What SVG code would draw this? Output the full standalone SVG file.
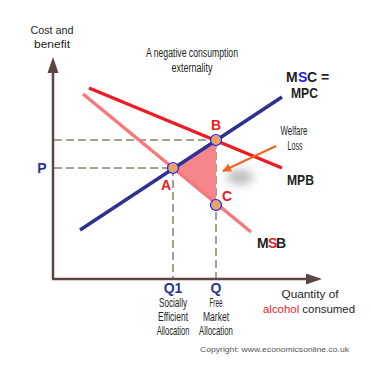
<svg xmlns="http://www.w3.org/2000/svg" width="371" height="368" viewBox="0 0 371 368">
<defs>
<style>
.t{font-family:"Liberation Sans",Arial,sans-serif;fill:#231f20}
.c{font-family:"Liberation Sans",Arial,sans-serif;fill:#231f20;font-size:12px}
.b{font-family:"Liberation Sans",Arial,sans-serif;font-weight:bold;font-size:14px;fill:#231f20}
.blue{fill:#2e3192}
.red{fill:#ed1c24}
.dash{stroke:#5a3e1e;stroke-width:1;stroke-dasharray:8 4;fill:none}
.axis{stroke:#5e4545;stroke-width:2.5;fill:none}
.dot{fill:#e6a467;stroke:#2020ff;stroke-width:1.2}
</style>
<marker id="ah" viewBox="0 0 10 10" refX="9" refY="5" markerWidth="4" markerHeight="4" orient="auto" markerUnits="strokeWidth">
<path d="M0,0 L10,5 L0,10 z" fill="#f26522"/>
</marker>
<filter id="sh" x="-50%" y="-50%" width="200%" height="200%"><feGaussianBlur stdDeviation="5"/></filter>
</defs>
<rect width="371" height="368" fill="#fff"/>

<g id="axes">
<line class="axis" x1="53" y1="279" x2="53" y2="70"/>
<path d="M53,57 L47.5,73 L58.5,73 z" fill="#5e4545"/>
<line class="axis" x1="52" y1="279" x2="308" y2="279"/>
<path d="M322,279 L306,273.5 L306,284.5 z" fill="#5e4545"/>
</g>

<g id="connectors">
<line class="dash" x1="54" y1="140" x2="216" y2="140"/>
<line class="dash" x1="54" y1="168" x2="173" y2="168"/>
<line class="dash" x1="173" y1="168" x2="173" y2="278"/>
<line class="dash" x1="216" y1="140" x2="216" y2="278"/>
</g>

<g id="welfare-area">
<polygon points="173,168 216,140 216,204" fill="#f4868a"/>
</g>

<g id="msb-curve">
<line x1="83" y1="94" x2="251" y2="232" stroke="#f5787d" stroke-width="3.5"/>
</g>
<g id="mpb-curve">
<line x1="89" y1="88" x2="282" y2="168" stroke="#ed1c24" stroke-width="3.5"/>
</g>
<g id="msc-curve">
<line x1="80" y1="230" x2="282" y2="97" stroke="#2e3192" stroke-width="3.5"/>
</g>

<g id="shadow">
<ellipse cx="240" cy="177" rx="13" ry="7" fill="#888" opacity="0.6" filter="url(#sh)"/>
</g>
<g id="arrow">
<line x1="276" y1="146" x2="223" y2="171" stroke="#f26522" stroke-width="2.2" marker-end="url(#ah)"/>
</g>

<g id="point-a"><circle class="dot" cx="173" cy="168" r="5.5"/><text class="b red" x="166" y="190" text-anchor="middle">A</text></g>
<g id="point-b"><circle class="dot" cx="216" cy="140" r="5.5"/><text class="b red" x="216" y="130" text-anchor="middle">B</text></g>
<g id="point-c"><circle class="dot" cx="216" cy="205" r="5.5"/><text class="b red" x="227" y="201" text-anchor="middle">C</text></g>

<g id="labels">
<text class="t" font-size="11" x="52" y="34" text-anchor="middle" textLength="43" lengthAdjust="spacingAndGlyphs">Cost and</text>
<text class="t" font-size="11" x="52" y="48" text-anchor="middle" textLength="36" lengthAdjust="spacingAndGlyphs">benefit</text>
<text class="c" x="192" y="57" text-anchor="middle" textLength="92" lengthAdjust="spacingAndGlyphs">A negative consumption</text>
<text class="c" x="192" y="72" text-anchor="middle" textLength="41" lengthAdjust="spacingAndGlyphs">externality</text>
<text class="b" x="286" y="82">M</text>
<text class="b" x="298" y="82" style="fill:#1c1cff">S</text>
<text class="b" x="307" y="82">C =</text>
<text class="b" x="291" y="98" textLength="27" lengthAdjust="spacingAndGlyphs">MPC</text>
<text class="c" x="294" y="135" text-anchor="middle" textLength="27" lengthAdjust="spacingAndGlyphs">Welfare</text>
<text class="c" x="295" y="150" text-anchor="middle" textLength="15" lengthAdjust="spacingAndGlyphs">Loss</text>
<text class="b" x="287" y="185" textLength="27" lengthAdjust="spacingAndGlyphs">MPB</text>
<text class="b" x="257" y="248">M</text>
<text class="b" x="268" y="248" style="fill:#ed1c24">S</text>
<text class="b" x="276" y="248">B</text>
<text class="b blue" x="42" y="173" text-anchor="middle" font-size="12">P</text>
<text class="b blue" x="173" y="293" text-anchor="middle" font-size="12">Q1</text>
<text class="b blue" x="216" y="293" text-anchor="middle" font-size="12">Q</text>
<text class="c" x="173" y="307" text-anchor="middle" textLength="28" lengthAdjust="spacingAndGlyphs">Socially</text>
<text class="c" x="173" y="321" text-anchor="middle" textLength="30" lengthAdjust="spacingAndGlyphs">Efficient</text>
<text class="c" transform="translate(173,335) scale(0.63,1)" x="0" y="0" text-anchor="middle">Allocation</text>
<text class="c" x="216" y="307" text-anchor="middle" textLength="13" lengthAdjust="spacingAndGlyphs">Free</text>
<text class="c" x="216" y="321" text-anchor="middle" textLength="26" lengthAdjust="spacingAndGlyphs">Market</text>
<text class="c" transform="translate(216,335) scale(0.65,1)" x="0" y="0" text-anchor="middle">Allocation</text>
<text class="t" font-size="11" x="310" y="298" text-anchor="middle" textLength="57" lengthAdjust="spacingAndGlyphs">Quantity of</text>
<text class="t" font-size="11" x="263" y="313" textLength="92" lengthAdjust="spacingAndGlyphs"><tspan style="fill:#ed1c24">alcohol</tspan> consumed</text>
<text class="t" font-size="8" x="200" y="352" textLength="149" lengthAdjust="spacingAndGlyphs" style="fill:#555">Copyright: www.economicsonline.co.uk</text>
</g>
</svg>
